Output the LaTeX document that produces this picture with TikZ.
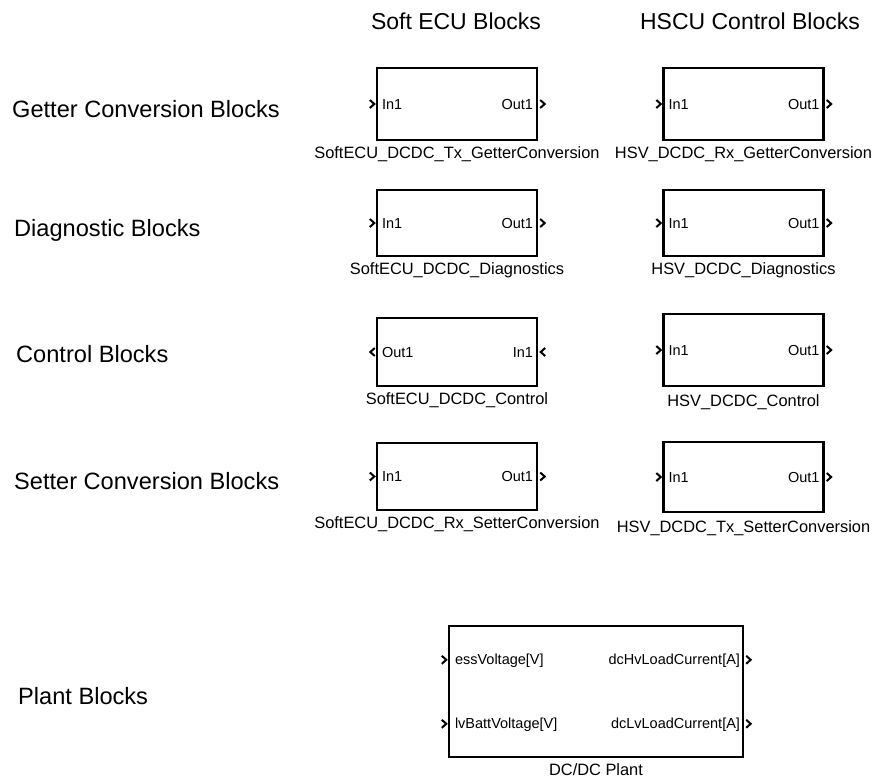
\documentclass[tikz,border=0pt]{standalone}
\usepackage{fontspec}
\setmainfont{Liberation Sans}
\usetikzlibrary{positioning}

\tikzset{
  blk/.style={draw, line width=2.4pt, minimum width=160pt, inner sep=0pt},
  blkname/.style={font=\fontsize{16.4}{18}\selectfont, inner sep=0pt},
  portlbl/.style={font=\fontsize{14.5}{16}\selectfont, inner sep=0pt},
  heading/.style={font=\fontsize{23}{26}\selectfont, inner sep=0pt, anchor=base},
  rowlbl/.style={font=\fontsize{23.6}{26}\selectfont, inner sep=0pt, anchor=base west},
  chev/.style={line width=2pt, line join=miter},
  pics/inL/.style={code={\draw[chev] (-6,-4) -- (-1.5,0) -- (-6,4);}},
  pics/outR/.style={code={\draw[chev] (2,-4) -- (6.5,0) -- (2,4);}},
  pics/outL/.style={code={\draw[chev] (-1,-4) -- (-5.5,0) -- (-1,4);}},
  pics/inR/.style={code={\draw[chev] (7,-4) -- (2.5,0) -- (7,4);}}
}

\begin{document}
\begin{tikzpicture}[x=1pt, y=-1pt]
\useasboundingbox (0,0) rectangle (872,780);

%column headings
\node[heading] (hsoft) at (456,29) {Soft ECU Blocks};
\node[heading] (hhscu) at (750,29) {HSCU Control Blocks};

%row labels
\node[rowlbl] (rget) at (12,117) {Getter Conversion Blocks};
\node[rowlbl] (rdia) at (14,236.5) {Diagnostic Blocks};
\node[rowlbl] (rctl) at (16,362.5) {Control Blocks};
\node[rowlbl] (rset) at (14,489.5) {Setter Conversion Blocks};
\node[rowlbl] (rplt) at (18,704) {Plant Blocks};

%soft ecu blocks
\node[blk, minimum height=72pt] (sg) at (457,104) {};
\node[blkname, below=5pt of sg] (sgn) {SoftECU\_DCDC\_Tx\_GetterConversion};
\node[blk, minimum height=66pt] (sd) at (457,223) {};
\node[blkname, below=5pt of sd] (sdn) {SoftECU\_DCDC\_Diagnostics};
\node[blk, minimum height=68pt] (sc) at (457,352) {};
\node[blkname, below=5pt of sc] (scn) {SoftECU\_DCDC\_Control};
\node[blk, minimum height=67pt] (ss) at (457,476.5) {};
\node[blkname, below=5pt of ss] (ssn) {SoftECU\_DCDC\_Rx\_SetterConversion};

%hscu blocks
\node[blk, minimum height=72pt] (hg) at (743.5,104) {};
\node[blkname, below=5pt of hg] (hgn) {HSV\_DCDC\_Rx\_GetterConversion};
\node[blk, minimum height=66pt] (hd) at (743.5,223) {};
\node[blkname, below=5pt of hd] (hdn) {HSV\_DCDC\_Diagnostics};
\node[blk, minimum height=72pt] (hc) at (743.5,350) {};
\node[blkname, below=7pt of hc] (hcn) {HSV\_DCDC\_Control};
\node[blk, minimum height=70pt] (hs) at (743.5,477) {};
\node[blkname, below=7pt of hs] (hsn) {HSV\_DCDC\_Tx\_SetterConversion};

%ports
\foreach \b in {sg,sd,ss,hg,hd,hc,hs}{
  \node[portlbl, anchor=base west] at ([xshift=6pt,yshift=-5pt]\b.west) {In1};
  \node[portlbl, anchor=base east] at ([xshift=-5pt,yshift=-5pt]\b.east) {Out1};
  \pic at (\b.west) {inL};
  \pic at (\b.east) {outR};
}
\node[portlbl, anchor=base west] (scout) at ([xshift=6pt,yshift=-5pt]sc.west) {Out1};
\node[portlbl, anchor=base east] (scin) at ([xshift=-5pt,yshift=-5pt]sc.east) {In1};
\pic at (sc.west) {outL};
\pic at (sc.east) {inR};

%plant
\node[blk, minimum width=294pt, minimum height=131pt] (plant) at (596,691.5) {};
\node[blkname, below=5pt of plant] (plantn) {DC/DC Plant};
\coordinate (pin1) at ([yshift=-35pt]plant.north west);
\coordinate (pin2) at ([yshift=-99pt]plant.north west);
\coordinate (pout1) at ([yshift=-35pt]plant.north east);
\coordinate (pout2) at ([yshift=-99pt]plant.north east);
\node[portlbl, anchor=base west] at ([xshift=7pt,yshift=-5pt]pin1) {essVoltage[V]};
\node[portlbl, anchor=base west] at ([xshift=7pt,yshift=-5pt]pin2) {lvBattVoltage[V]};
\node[portlbl, anchor=base east] at ([xshift=-4pt,yshift=-5pt]pout1) {dcHvLoadCurrent[A]};
\node[portlbl, anchor=base east] at ([xshift=-4pt,yshift=-5pt]pout2) {dcLvLoadCurrent[A]};
\pic at (pin1) {inL};
\pic at (pin2) {inL};
\pic at (pout1) {outR};
\pic at (pout2) {outR};
\end{tikzpicture}
\end{document}
